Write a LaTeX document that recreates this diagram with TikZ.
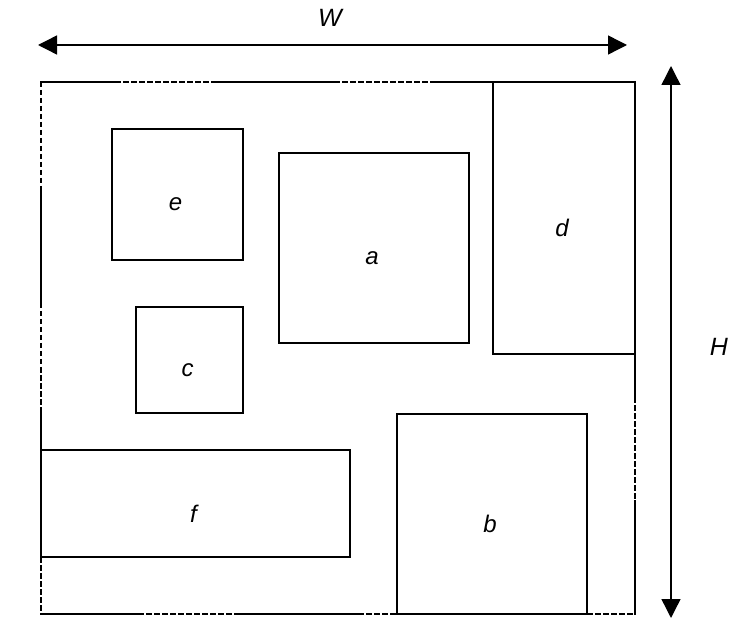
\documentclass[tikz,border=0pt]{standalone}
\usepackage{fontspec}
\setmainfont{Liberation Sans}
\usetikzlibrary{arrows.meta}
\begin{document}
\begin{tikzpicture}[x=1pt,y=-1pt,
  box/.style={draw,line width=2pt,inner sep=0pt},
  lbl/.style={font=\fontsize{24}{28}\selectfont\itshape,xshift=-2pt,yshift=-10pt},
  dimlabel/.style={font=\fontsize{25}{30}\selectfont\itshape},
  solidedge/.style={line width=2pt},
  dashededge/.style={line width=2pt,dash pattern=on 5.5pt off 2.5pt},
  dimarrow/.style={line width=1.4pt,{Triangle[length=19pt,width=19pt]}-{Triangle[length=19pt,width=19pt]}}]
\useasboundingbox (0,0) rectangle (737,631);
% top edge
\draw[solidedge] (40,82) -- (115,82);
\draw[dashededge] (115,82) -- (214,82);
\draw[solidedge] (214,82) -- (334,82);
\draw[dashededge] (334,82) -- (432,82);
\draw[solidedge] (432,82) -- (635,82);
% left edge
\draw[dashededge] (41,82) -- (41,190);
\draw[solidedge] (41,190) -- (41,303);
\draw[dashededge] (41,303) -- (41,410);
\draw[solidedge] (41,410) -- (41,450);
\draw[dashededge] (41,557) -- (41,614);
% bottom edge
\draw[solidedge] (40,614) -- (138,614);
\draw[dashededge] (138,614) -- (238,614);
\draw[solidedge] (238,614) -- (358,614);
\draw[dashededge] (358,614) -- (397,614);
\draw[dashededge] (587,614) -- (635,614);
% right edge
\draw[solidedge] (635,81) -- (635,397);
\draw[dashededge] (635,397) -- (635,500);
\draw[solidedge] (635,500) -- (635,615);
% boxes
\node[box,minimum width=131pt,minimum height=131pt,label={[lbl]center:e}] (e) at (177.5,194.5) {};
\node[box,minimum width=190pt,minimum height=190pt,label={[lbl]center:a}] (a) at (374,248) {};
\node[box,minimum width=142pt,minimum height=272pt,label={[lbl]center:d}] (d) at (564,218) {};
\node[box,minimum width=107pt,minimum height=106pt,label={[lbl]center:c}] (c) at (189.5,360) {};
\node[box,minimum width=309pt,minimum height=107pt,label={[lbl]center:f}] (f) at (195.5,503.5) {};
\node[box,minimum width=190pt,minimum height=200pt,label={[lbl]center:b}] (b) at (492,514) {};
% dimension arrows
\coordinate (wl) at (38,45);
\coordinate (wr) at (627,45);
\coordinate (ht) at (671,66);
\coordinate (hb) at (671,618);
\draw[dimarrow] (wl) -- (wr);
\draw[dimarrow] (ht) -- (hb);
\node[dimlabel] (W) at (330,18) {W};
\node[dimlabel] (H) at (719,347) {H};
\end{tikzpicture}
\end{document}
